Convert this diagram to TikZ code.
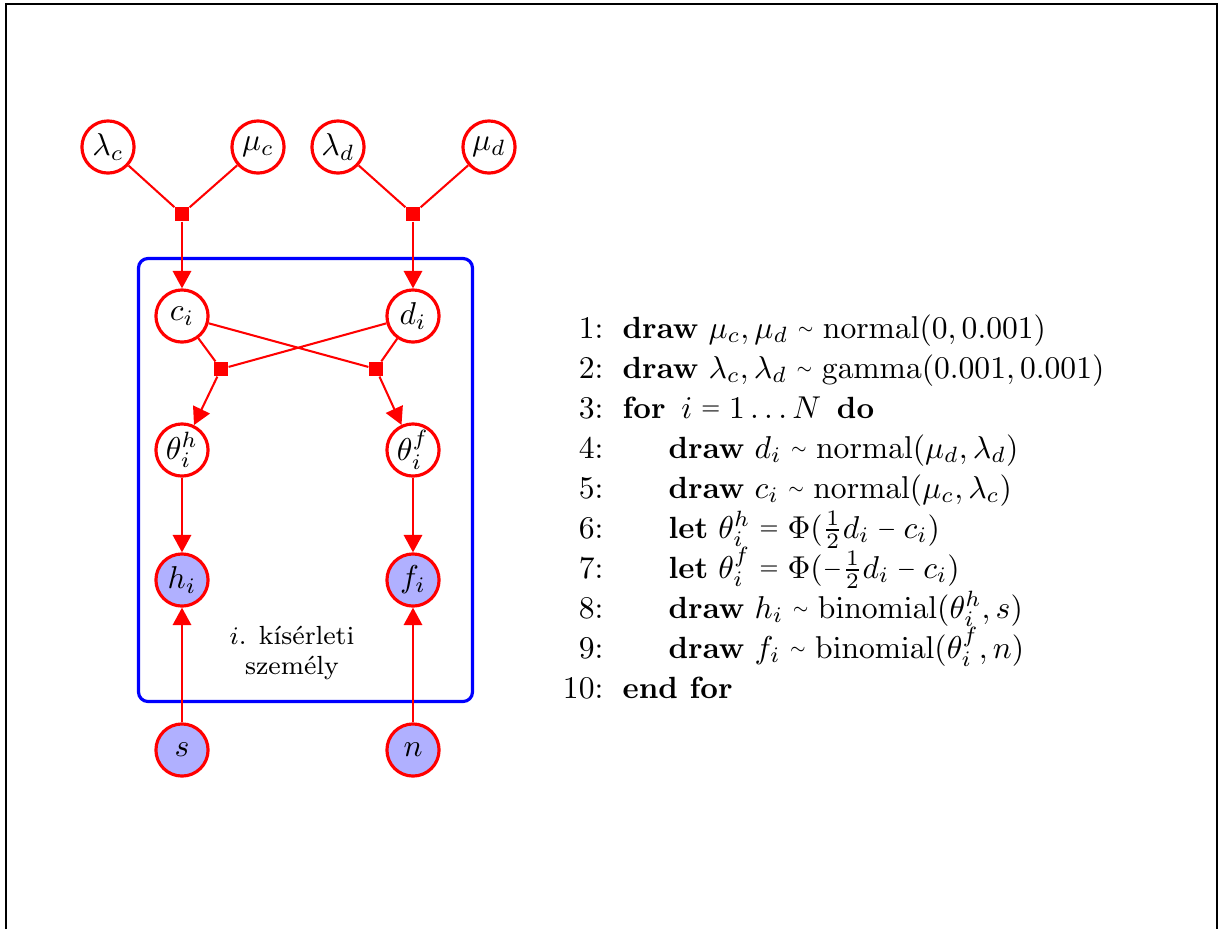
\documentclass[tikz,border=0pt]{standalone}
\usepackage{amsmath}
\usepackage{tikz}
\usetikzlibrary{arrows.meta}
\definecolor{obsfill}{HTML}{B0B0FF}
\newcommand{\algsim}{\mathrel{\vcenter{\hbox{$\scriptscriptstyle\sim$}}}}
\newcommand{\algeq}{\mathrel{\vcenter{\hbox{$\scriptstyle =$}}}}
\newcommand{\algminus}{\mathbin{\vcenter{\hbox{$\scriptstyle -$}}}}

\begin{document}
\begin{tikzpicture}[x=.3165pt,y=-.3165pt,
  var/.style={circle,draw=red,line width=1pt,minimum size=16.5pt,inner sep=0pt},
  obs/.style={var,fill=obsfill},
  fac/.style={rectangle,fill=red,minimum size=4.4pt,inner sep=0pt},
  edge/.style={red,line width=.65pt},
  arr/.style={edge,-{Triangle[length=5.5pt,width=5.8pt]}},
  plate/.style={blue,line width=1pt,rounded corners=3pt}]
\useasboundingbox (0,0) rectangle (1219,929);
\draw[line width=.45pt] (6,929)--(6,4)--(1217,4)--(1217,929);
% hyperpriors
\node[var] (lc) at (108,147) {$\lambda_c$};
\node[var] (mc) at (258,147) {$\mu_c$};
\node[var] (ld) at (338,147) {$\lambda_d$};
\node[var] (md) at (489,147) {$\mu_d$};
\node[fac] (fc) at (182,214) {};
\node[fac] (fd) at (413,214) {};
% plate
\draw[plate] (138.5,258.5) rectangle (472.5,701.5);
\node[var] (c) at (182,316) {$c_i$};
\node[var] (d) at (413,316) {$d_i$};
\node[fac] (fh) at (221,369) {};
\node[fac] (ff) at (376,369) {};
\node[var] (th) at (182,450) {$\theta_i^h$};
\node[var] (tf) at (413,450) {$\theta_i^f$};
\node[obs] (h) at (182,580) {$h_i$};
\node[obs] (f) at (413,580) {$f_i$};
\node[align=center,font=\fontsize{8.3}{9.5}\selectfont] (lbl) at (292,653) {$i$. kísérleti\\személy};
\node[obs] (s) at (182,750) {$s$};
\node[obs] (n) at (413,750) {$n$};
% edges
\draw[edge] (lc)--(fc) (mc)--(fc) (ld)--(fd) (md)--(fd);
\draw[edge] (c)--(fh) (d)--(fh) (c)--(ff) (d)--(ff);
\draw[arr] (fc)--(c);
\draw[arr] (fd)--(d);
\draw[arr] (fh)--(th);
\draw[arr] (ff)--(tf);
\draw[arr] (th)--(h);
\draw[arr] (tf)--(f);
\draw[arr] (s)--(h);
\draw[arr] (n)--(f);
% algorithm
\foreach \k/\ind/\txt in {
  1/622/{\textbf{draw} $\mu_c,\mu_d\algsim\mathrm{normal}(0,0.001)$},
  2/622/{\textbf{draw} $\lambda_c,\lambda_d\algsim\mathrm{gamma}(0.001,0.001)$},
  3/622/{\textbf{for}\hspace{5pt}$i\algeq 1\ldots N$\hspace{5pt}\textbf{do}},
  4/668/{\textbf{draw} $d_i\algsim\mathrm{normal}(\mu_d,\lambda_d)$},
  5/668/{\textbf{draw} $c_i\algsim\mathrm{normal}(\mu_c,\lambda_c)$},
  6/668/{\textbf{let} $\theta_i^h\algeq\Phi(\frac{1}{2}d_i\algminus c_i)$},
  7/668/{\textbf{let} $\theta_i^f\algeq\Phi({\algminus}\frac{1}{2}d_i\algminus c_i)$},
  8/668/{\textbf{draw} $h_i\algsim\mathrm{binomial}(\theta_i^h,s)$},
  9/668/{\textbf{draw} $f_i\algsim\mathrm{binomial}(\theta_i^f,n)$},
  10/622/{\textbf{end for}}}{
\node[anchor=base east,inner sep=0pt] (num\k) at (604,{338+40*(\k-1)}) {\k:};
\node[anchor=base west,inner sep=0pt,font=\fontsize{9.7}{12}\selectfont] (line\k) at (\ind,{338+40*(\k-1)}) {\txt};}
\end{tikzpicture}
\end{document}
